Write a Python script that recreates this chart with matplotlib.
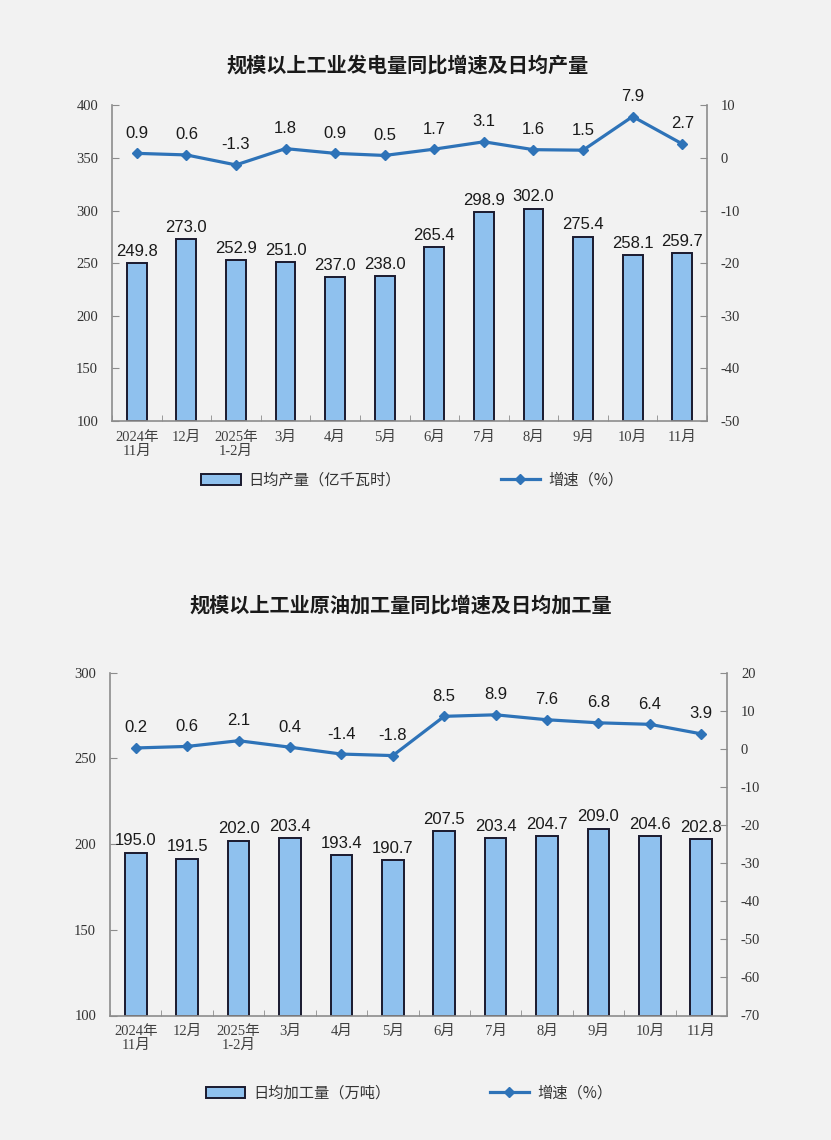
import matplotlib.pyplot as plt
import numpy as np
from matplotlib.patches import Patch
from matplotlib.lines import Line2D

plt.rcParams["axes.unicode_minus"] = False

## 数据
months = ["2024年\n11月", "12月", "2025年\n1-2月", "3月", "4月", "5月",
          "6月", "7月", "8月", "9月", "10月", "11月"]

power_daily = [249.8, 273.0, 252.9, 251.0, 237.0, 238.0, 265.4, 298.9, 302.0, 275.4, 258.1, 259.7]
power_growth = [0.9, 0.6, -1.3, 1.8, 0.9, 0.5, 1.7, 3.1, 1.6, 1.5, 7.9, 2.7]

oil_daily = [195.0, 191.5, 202.0, 203.4, 193.4, 190.7, 207.5, 203.4, 204.7, 209.0, 204.6, 202.8]
oil_growth = [0.2, 0.6, 2.1, 0.4, -1.4, -1.8, 8.5, 8.9, 7.6, 6.8, 6.4, 3.9]

BG = "#f2f2f2"
BAR = "#8fc1ee"
EDGE = "#1a1a2e"
LINE = "#2e73b8"
SPINE = "#8c8c8c"
CJK = ["Noto Sans CJK SC", "DejaVu Sans"]
SERIF = ["Liberation Serif", "Noto Sans CJK SC"]
NUM = ["Liberation Sans", "DejaVu Sans"]

fig = plt.figure(figsize=(8.31, 11.40), dpi=100, facecolor=BG)


def draw(rect, bars, growth, left_lim, left_ticks, right_lim, right_ticks, width):
    ax = fig.add_axes(rect)
    ax.set_facecolor(BG)
    x = np.arange(len(bars))
    ax.bar(x, np.array(bars) - left_lim[0], bottom=left_lim[0], width=width,
           color=BAR, edgecolor=EDGE, linewidth=1.4, zorder=2)
    ax.set_ylim(*left_lim)
    ax.set_xlim(-0.5, len(bars) - 0.5)
    ax.set_yticks(left_ticks)
    ax.set_xticks(x)
    ax.set_xticklabels(months, family=SERIF, fontsize=10.5, color="#404040", linespacing=1.1)
    ax.set_xticks(np.arange(-0.5, len(bars), 1), minor=True)
    ax.tick_params(axis="x", which="major", length=0, pad=7)
    ax.tick_params(axis="x", which="minor", length=4, direction="in", color=SPINE)
    ax.tick_params(axis="y", length=5, direction="in", color=SPINE, labelsize=10.5,
                   labelcolor="#333333", pad=10)
    for lab in ax.get_yticklabels():
        lab.set_family(SERIF)
    for s in ["top", "right"]:
        ax.spines[s].set_visible(False)
    for s in ["left", "bottom"]:
        ax.spines[s].set_color(SPINE)
        ax.spines[s].set_linewidth(1.2)

    for xi, v in zip(x, bars):
        ax.annotate(f"{v:.1f}", (xi, v), xytext=(0, 3), textcoords="offset points",
                    ha="center", va="bottom", fontsize=12, family=NUM, color="#1a1a1a")

    ax2 = ax.twinx()
    ax2.plot(x, growth, color=LINE, lw=2.3, marker="D", markersize=5.5, zorder=3)
    ax2.set_ylim(*right_lim)
    ax2.set_yticks(right_ticks)
    ax2.tick_params(axis="y", length=5, direction="in", color=SPINE, labelsize=10.5,
                    labelcolor="#333333", pad=10)
    for lab in ax2.get_yticklabels():
        lab.set_family(SERIF)
    for s in ["top", "left", "bottom"]:
        ax2.spines[s].set_visible(False)
    ax2.spines["right"].set_color(SPINE)
    ax2.spines["right"].set_linewidth(1.2)
    for xi, v in zip(x, growth):
        ax2.annotate(f"{v:.1f}", (xi, v), xytext=(0, 9), textcoords="offset points",
                     ha="center", va="bottom", fontsize=12, family=NUM, color="#1a1a1a")
    return ax


## 上图：发电量
draw([112 / 831, 1 - 421 / 1140, (707 - 112) / 831, (421 - 105.5) / 1140],
     power_daily, power_growth, (100, 400), range(100, 401, 50),
     (-50, 10), range(-50, 11, 10), 0.4)
fig.text(408 / 831, 1 - 65 / 1140, "规模以上工业发电量同比增速及日均产量",
         ha="center", va="center", fontsize=14.5, fontweight="bold", family=CJK, color="#1a1a1a")

## 下图：原油加工量
draw([110 / 831, 1 - 1015.5 / 1140, (727 - 110) / 831, (1015.5 - 672.5) / 1140],
     oil_daily, oil_growth, (100, 300), range(100, 301, 50),
     (-70, 20), range(-70, 21, 10), 0.42)
fig.text(401 / 831, 1 - 605 / 1140, "规模以上工业原油加工量同比增速及日均加工量",
         ha="center", va="center", fontsize=14.5, fontweight="bold", family=CJK, color="#1a1a1a")

## 图例
def legend(y, x, bar_text):
    handles = [Patch(facecolor=BAR, edgecolor=EDGE, linewidth=1.4),
               Line2D([], [], color=LINE, lw=2.3, marker="D", markersize=5.5)]
    leg = fig.legend(handles, [bar_text, "增速（%）"], loc="center",
                     bbox_to_anchor=(x, 1 - y / 1140), ncol=2, frameon=False,
                     prop={"family": CJK, "size": 11}, columnspacing=6.5,
                     handlelength=2.6, handletextpad=0.5)
    for t in leg.get_texts():
        t.set_color("#333333")

legend(480, 0.496, "日均产量（亿千瓦时）")
legend(1093, 0.492, "日均加工量（万吨）")

fig.savefig("out.png", dpi=100, facecolor=BG)
